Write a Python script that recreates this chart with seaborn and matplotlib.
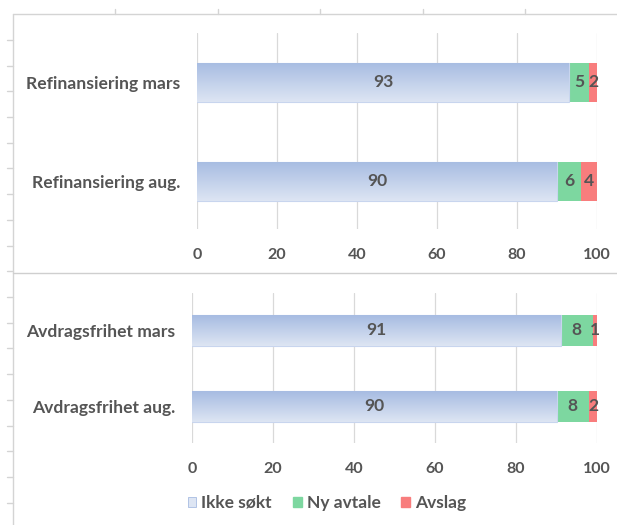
import numpy as np
import pandas as pd
import matplotlib
matplotlib.use("Agg")
import matplotlib.pyplot as plt
import seaborn as sns
from matplotlib.lines import Line2D
from matplotlib.patches import Patch
from matplotlib.colors import LinearSegmentedColormap

# Data (percent of respondents)
series = ["Ikke søkt", "Ny avtale", "Avslag"]

refin_labels = ["Refinansiering mars", "Refinansiering aug."]
refin_ikke = [93, 90]
refin_ny = [5, 6]
refin_avslag = [2, 4]

avdrag_labels = ["Avdragsfrihet mars", "Avdragsfrihet aug."]
avdrag_ikke = [91, 90]
avdrag_ny = [8, 8]
avdrag_avslag = [1, 2]

x_ticks = [0, 20, 40, 60, 80, 100]

# Styling
TEXT = "#555555"
GRID = "#D9D9D9"
BLUE_TOP = "#A7BCE2"
BLUE_BOT = "#DDE5F3"
GREEN = "#7DD7A0"
RED = "#F87D7D"
FONT = "Lato"
FS_CAT = 12.6
FS_VAL = 12.6
FS_TICK = 11.5
FS_LEG = 12.5

sns.set_theme(style="white")
plt.rcParams["font.family"] = [FONT, "DejaVu Sans"]
plt.rcParams["font.weight"] = "bold"

fig = plt.figure(figsize=(6.17, 5.25), dpi=100)
fig.patch.set_facecolor("white")

blue_cmap = LinearSegmentedColormap.from_list("bluegrad", [BLUE_TOP, BLUE_BOT])


def stacked_panel(ax, labels, ikke, ny, avslag):
    df = pd.DataFrame({"kategori": labels, "ikke": ikke, "ny": ny, "avslag": avslag})
    df["c_ny"] = df["ikke"] + df["ny"]
    df["c_avslag"] = df["c_ny"] + df["avslag"]

    # draw the longest cumulative segment first so shorter ones sit on top
    sns.barplot(data=df, x="c_avslag", y="kategori", orient="h", color=RED,
                saturation=1, width=0.4, ax=ax, linewidth=0)
    sns.barplot(data=df, x="c_ny", y="kategori", orient="h", color=GREEN,
                saturation=1, width=0.4, ax=ax, linewidth=0)
    n_before_blue = len(ax.patches)
    sns.barplot(data=df, x="ikke", y="kategori", orient="h", color=BLUE_BOT,
                saturation=1, width=0.4, ax=ax, linewidth=0)

    # vertical gradient fill on the "Ikke søkt" bars
    grad = np.linspace(0, 1, 64).reshape(-1, 1)
    for p in ax.patches[n_before_blue:]:
        x0, y0, w, h = p.get_x(), p.get_y(), p.get_width(), p.get_height()
        im = ax.imshow(grad, cmap=blue_cmap, aspect="auto",
                       extent=(x0, x0 + w, y0 + h, y0), zorder=p.get_zorder() + 0.1,
                       interpolation="bicubic")
        im.set_clip_path(p)
        p.set_edgecolor("#C8D5EE")
        p.set_linewidth(0.8)

    # value labels in the middle of each segment
    for i in range(len(df)):
        segs = [(0, df["ikke"][i]),
                (df["ikke"][i], df["ny"][i]),
                (df["c_ny"][i], df["avslag"][i])]
        for left, val in segs:
            ax.text(left + val / 2, i, f"{val}", ha="center", va="center",
                    color=TEXT, fontsize=FS_VAL, fontweight="bold", zorder=10)

    ax.set_xlim(0, 100)
    ax.set_xticks(x_ticks)
    ax.set_xlabel("")
    ax.set_ylabel("")
    for s in ax.spines.values():
        s.set_visible(False)
    ax.grid(axis="x", color=GRID, linewidth=0.9)
    ax.grid(axis="y", visible=False)
    ax.set_axisbelow(True)
    ax.tick_params(axis="x", length=0, pad=14, labelsize=FS_TICK, labelcolor=TEXT)
    ax.tick_params(axis="y", length=0, pad=12, labelsize=FS_CAT, labelcolor=TEXT)
    for t in ax.get_xticklabels() + ax.get_yticklabels():
        t.set_fontweight("bold")


ax1 = fig.add_axes([197 / 617, 1 - 229 / 525, 400 / 617, 196 / 525])
stacked_panel(ax1, refin_labels, refin_ikke, refin_ny, refin_avslag)
ax1.set_ylim(1.48, -0.5)

ax2 = fig.add_axes([192 / 617, 1 - 443 / 525, 405 / 617, 150 / 525])
stacked_panel(ax2, avdrag_labels, avdrag_ikke, avdrag_ny, avdrag_avslag)
ax2.set_ylim(1.48, -0.49)

# worksheet frame around the chart objects
FRAME = "#D4D4D4"
W, H = 617, 525
def px_line(x0, y0, x1, y1, color=FRAME, lw=1.0):
    fig.add_artist(Line2D([x0 / W, x1 / W], [1 - y0 / H, 1 - y1 / H],
                          transform=fig.transFigure, color=color, lw=lw))

px_line(13, 14, 617, 14)
px_line(13, 14, 13, 525)
for xc in [115, 218, 320, 423, 525]:
    px_line(xc, 9, xc, 14)
for yc in np.arange(40, 525, 25.7):
    px_line(7, yc, 13, yc)
px_line(13, 273, 617, 273, color="#CFCFCF")

# legend
handles = [Patch(facecolor=BLUE_BOT, edgecolor=BLUE_TOP, linewidth=0.6),
           Patch(facecolor=GREEN, edgecolor=GREEN),
           Patch(facecolor=RED, edgecolor=RED)]
leg = fig.legend(handles, series, loc="center", bbox_to_anchor=(327 / W, 1 - 503 / H),
                 ncol=3, frameon=False, fontsize=FS_LEG, handlelength=0.5,
                 handleheight=0.5, handletextpad=0.3, columnspacing=1.2)
for t in leg.get_texts():
    t.set_color(TEXT)
    t.set_fontweight("bold")

fig.savefig("out.png", dpi=100, facecolor="white")
